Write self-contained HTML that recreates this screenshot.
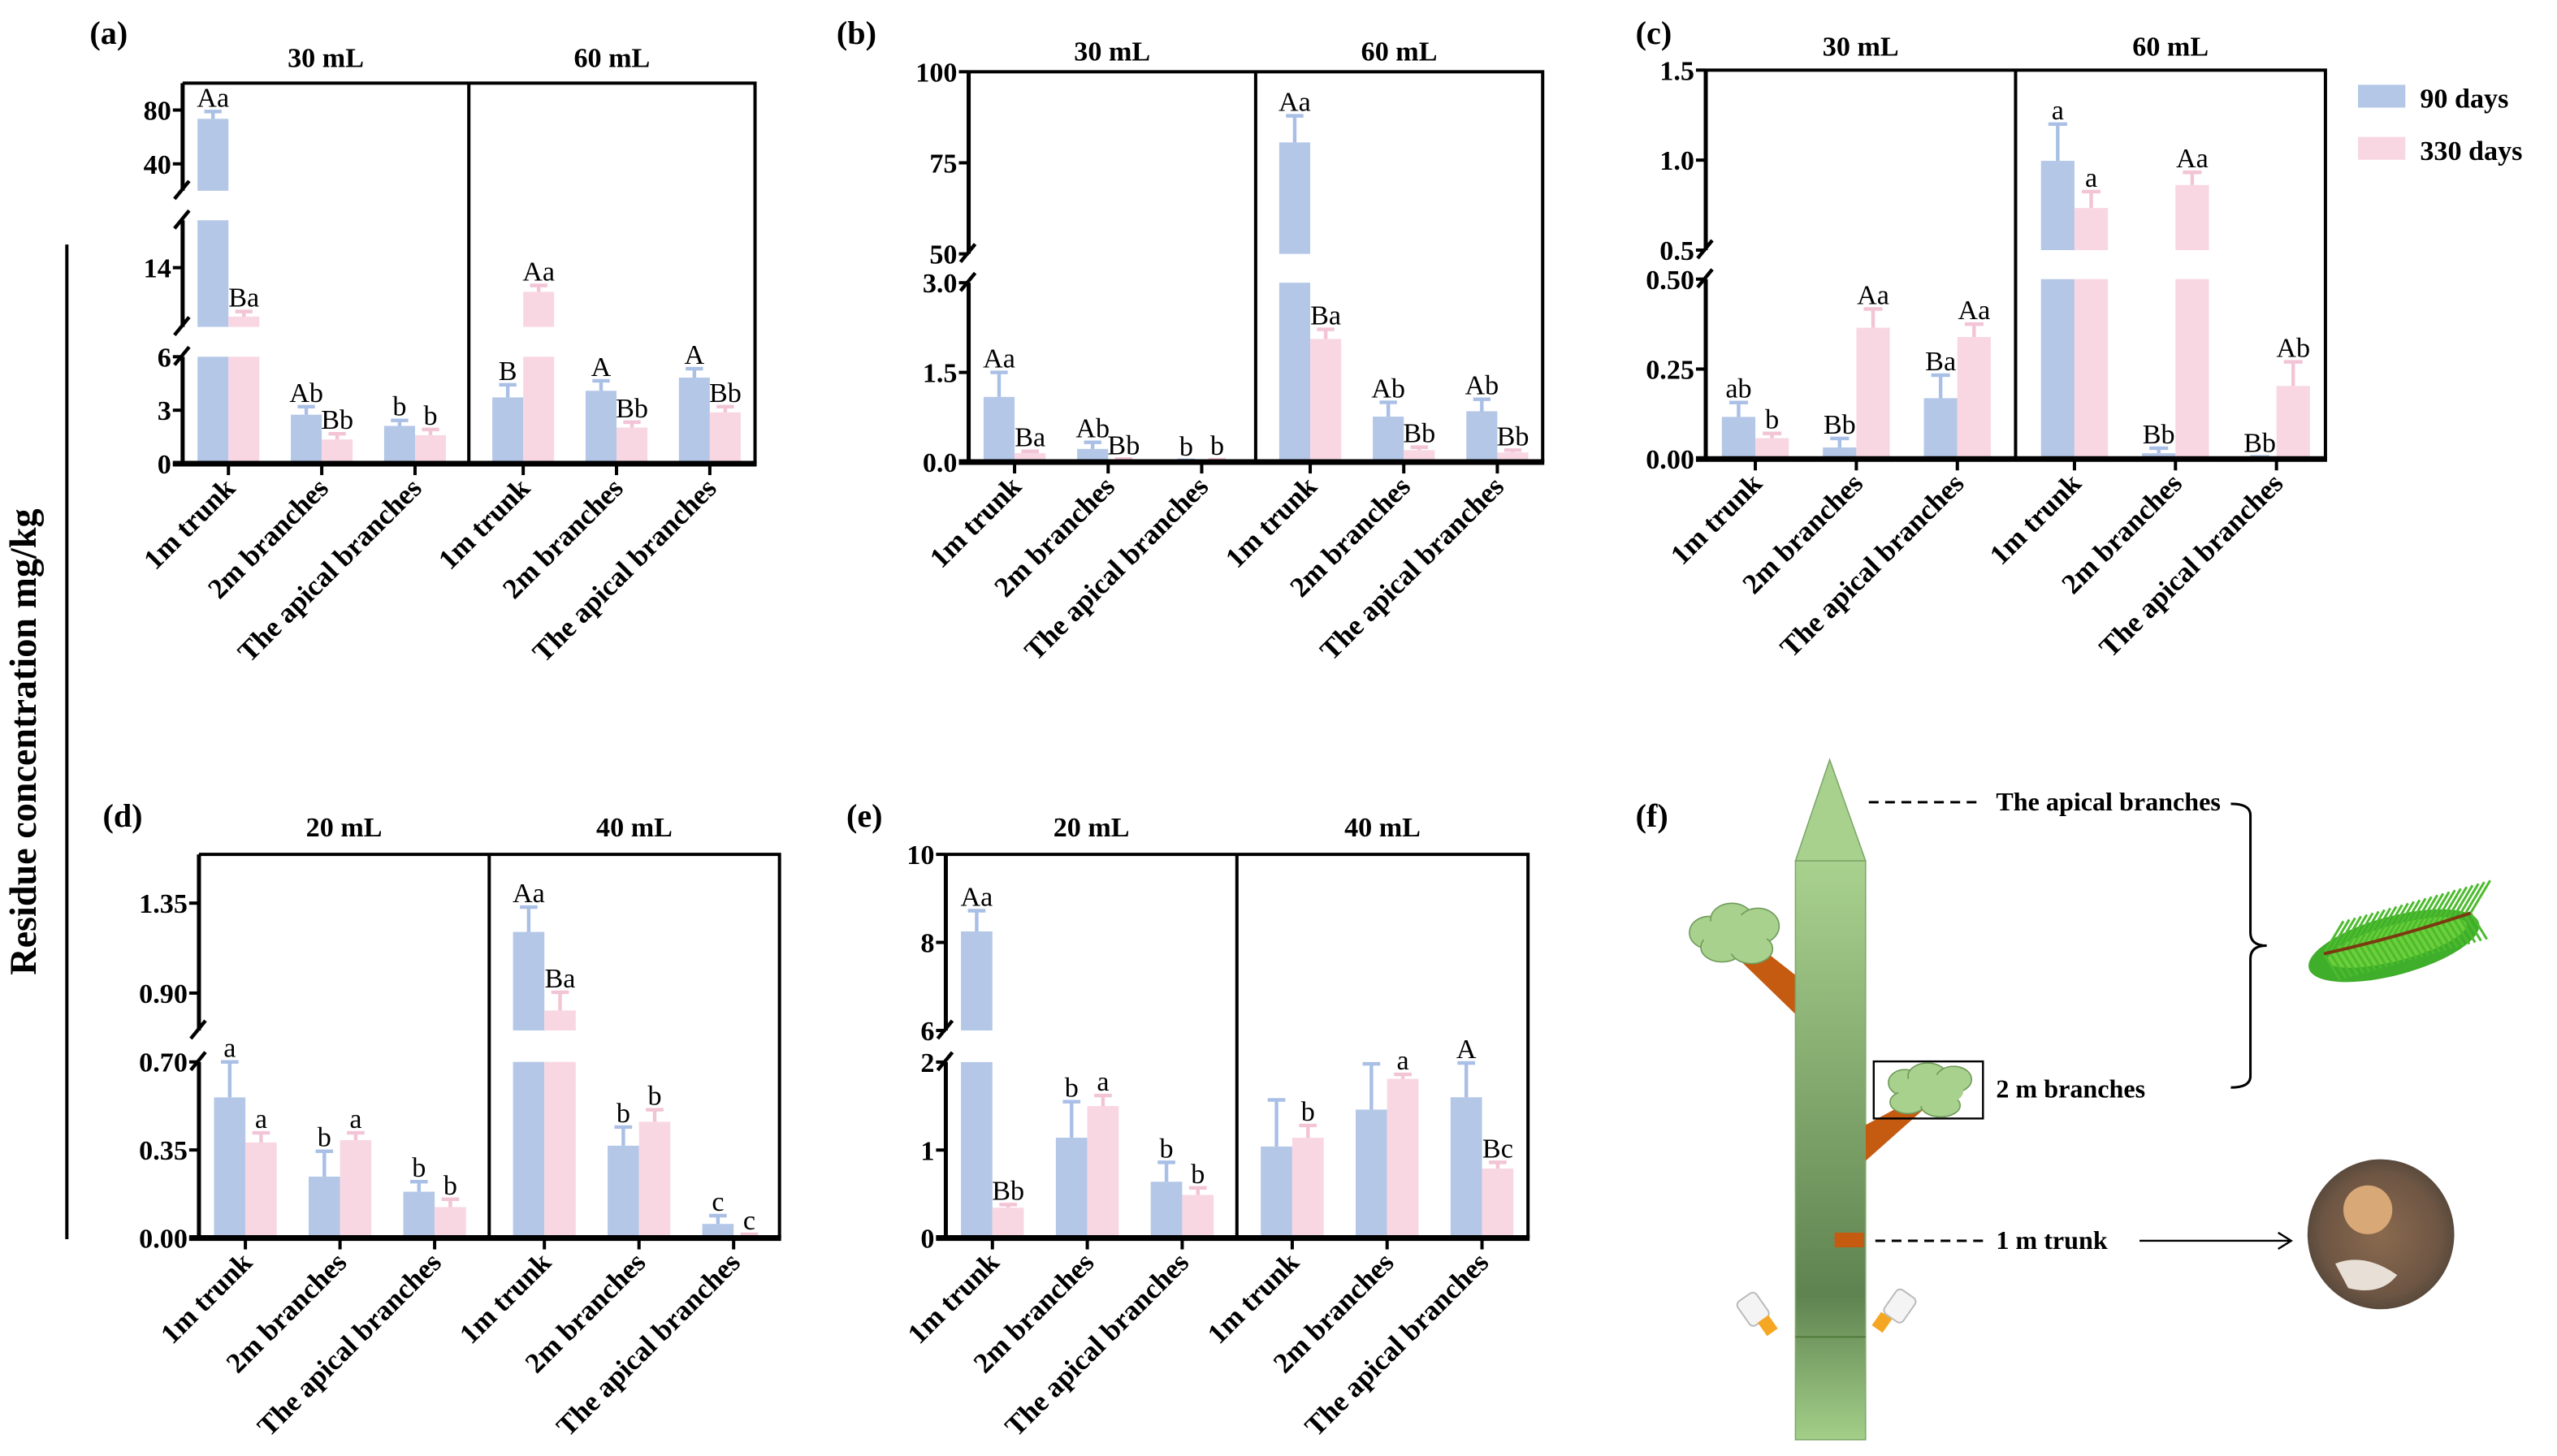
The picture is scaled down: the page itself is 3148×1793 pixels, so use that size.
<!DOCTYPE html>
<html><head><meta charset="utf-8"><style>
html,body{margin:0;padding:0;background:#fff;}
svg{display:block;}
text{font-family:"Liberation Serif",serif;}
</style></head>
<body>
<svg id="fig" width="3148" height="1793" viewBox="0 0 1568 893" preserveAspectRatio="none" xmlns="http://www.w3.org/2000/svg">
<defs>
<linearGradient id="trunkGrad" x1="0" y1="0" x2="0" y2="1">
<stop offset="0" stop-color="#a9d18e"/><stop offset="0.75" stop-color="#5f8350"/><stop offset="1" stop-color="#a3cf89"/>
</linearGradient>
<radialGradient id="barkGrad" cx="0.5" cy="0.5" r="0.5">
<stop offset="0" stop-color="#8a6a4e"/><stop offset="0.8" stop-color="#6e5644"/><stop offset="1" stop-color="#5a4a3c"/>
</radialGradient>
</defs>
<g id="charts"></g>
<g id="axis-title-group">
<line x1="41" y1="150" x2="41" y2="760" stroke="#000" stroke-width="2"/>
<text x="22" y="455" font-size="23" font-weight="bold" text-anchor="middle" transform="rotate(-90 22 455)">Residue concentration mg/kg</text>
</g>
<g id="legend">
<rect x="1446" y="52" width="29" height="14" fill="#b4c7e7"/>
<text x="1484" y="66" font-size="17" font-weight="bold">90 days</text>
<rect x="1446" y="84" width="29" height="14" fill="#f8d7e3"/>
<text x="1484" y="98" font-size="17" font-weight="bold">330 days</text>
</g>
<g id="panel-f">
<text x="1003" y="507" font-size="20" font-weight="bold">(f)</text>
<polygon points="1122,466 1101,528 1144,528" fill="#a9d18e" stroke="#7ea86a" stroke-width="0.8"/>
<polygon points="1101,622 1101,598 1078,580 1068,590" fill="#c55a11"/>
<g fill="#a9d18e" stroke="#6f9a5a" stroke-width="0.8">
<ellipse cx="1048" cy="572" rx="12" ry="10"/><ellipse cx="1062" cy="564" rx="13" ry="10"/><ellipse cx="1078" cy="568" rx="13" ry="11"/><ellipse cx="1056" cy="581" rx="13" ry="9"/><ellipse cx="1074" cy="582" rx="13" ry="9"/><ellipse cx="1064" cy="573" rx="20" ry="12" stroke="none"/>
</g>
<rect x="1101" y="528" width="43" height="355" fill="url(#trunkGrad)" stroke="#7ea86a" stroke-width="0.8"/>
<line x1="1101" y1="820" x2="1144" y2="820" stroke="#4f7a3a" stroke-width="1"/>
<polygon points="1144,712 1144,690 1170,676 1180,680" fill="#c55a11"/>
<rect x="1149" y="651" width="67" height="35" fill="none" stroke="#000" stroke-width="1.2"/>
<g fill="#a9d18e" stroke="#6f9a5a" stroke-width="0.8">
<ellipse cx="1168" cy="664" rx="10" ry="8"/><ellipse cx="1182" cy="660" rx="12" ry="8"/><ellipse cx="1198" cy="662" rx="11" ry="8"/><ellipse cx="1170" cy="676" rx="11" ry="7"/><ellipse cx="1190" cy="678" rx="12" ry="7"/><ellipse cx="1184" cy="669" rx="20" ry="10" stroke="none"/>
</g>
<rect x="1125" y="756" width="18" height="9" fill="#c55a11"/>
<g>
<rect x="1068" y="794" width="14" height="18" rx="3" fill="#f4f4f4" stroke="#bbb" transform="rotate(-35 1075 803)"/>
<rect x="1080" y="808" width="8" height="10" fill="#f5a623" transform="rotate(-35 1084 813)"/>
</g>
<g>
<rect x="1158" y="792" width="14" height="18" rx="3" fill="#f4f4f4" stroke="#bbb" transform="rotate(35 1165 801)"/>
<rect x="1150" y="806" width="8" height="10" fill="#f5a623" transform="rotate(35 1154 811)"/>
</g>
<line x1="1146" y1="492" x2="1212" y2="492" stroke="#000" stroke-width="1.5" stroke-dasharray="6,4"/>
<text x="1224" y="497" font-size="16" font-weight="bold">The apical branches</text>
<text x="1224" y="673" font-size="16" font-weight="bold">2 m branches</text>
<line x1="1150" y1="761" x2="1216" y2="761" stroke="#000" stroke-width="1.5" stroke-dasharray="6,4"/>
<text x="1224" y="766" font-size="16" font-weight="bold">1 m trunk</text>
<path d="M1368,493 Q1380,493 1380,500 L1380,572 Q1380,580 1390,580 Q1380,580 1380,588 L1380,660 Q1380,667 1368,667" fill="none" stroke="#000" stroke-width="1.5"/>
<line x1="1312" y1="761" x2="1404" y2="761" stroke="#000" stroke-width="1.2"/>
<path d="M1397,756 L1405,761 L1397,766" fill="none" stroke="#000" stroke-width="1.2"/>
<g>
<ellipse cx="1468" cy="580" rx="54" ry="18" fill="#3fae2a" transform="rotate(-15 1468 580)"/>
<ellipse cx="1470" cy="578" rx="44" ry="11" fill="#6ccf3a" transform="rotate(-15 1470 578)"/>
<g id="needles" stroke="#4cbb2e" stroke-width="1.5"></g>
<path d="M1425,585 Q1470,575 1515,560" stroke="#7a3a10" stroke-width="2" fill="none"/>
</g>
<g>
<ellipse cx="1460" cy="757" rx="45" ry="46" fill="url(#barkGrad)"/>
<ellipse cx="1452" cy="742" rx="15" ry="15" fill="#d9a877"/>
<path d="M1432,775 Q1450,768 1470,782 Q1460,795 1440,790 Z" fill="#e8e0d6"/>
</g>
</g>
</svg>
<script>
// ---------- DATA ----------
const categories = ['1m trunk','2m branches','The apical branches','1m trunk','2m branches','The apical branches'];

const aBlue = [73.5, 2.75, 2.12, 3.72, 4.09, 4.83];
const aBlueErr = [78.9, 3.2, 2.43, 4.43, 4.65, 5.33];
const aPink = [9.87, 1.36, 1.6, 11.96, 2.03, 2.88];
const aPinkErr = [10.3, 1.68, 1.92, 12.5, 2.33, 3.2];
const aBlueLab = ['Aa','Ab','b','B','A','A'];
const aPinkLab = ['Ba','Bb','b','Aa','Bb','Bb'];
const aTicks = [[0,3,6],[14],[40,80]];
const aTickLabels = [['0','3','6'],['14'],['40','80']];

const bBlue = [1.09, 0.22, 0.02, 80.6, 0.76, 0.85];
const bBlueErr = [1.5, 0.33, 0.03, 87.9, 1.0, 1.05];
const bPink = [0.15, 0.03, 0.02, 2.06, 0.2, 0.16];
const bPinkErr = [0.18, 0.05, 0.04, 2.22, 0.25, 0.2];
const bBlueLab = ['Aa','Ab','b','Aa','Ab','Ab'];
const bPinkLab = ['Ba','Bb','b','Ba','Bb','Bb'];
const bTicks = [[0,1.5,3],[50,75,100]];
const bTickLabels = [['0.0','1.5','3.0'],['50','75','100']];

const cBlue = [0.117, 0.032, 0.169, 0.996, 0.016, 0.004];
const cBlueErr = [0.157, 0.057, 0.233, 1.2, 0.03, 0.006];
const cPink = [0.058, 0.365, 0.339, 0.734, 0.862, 0.203];
const cPinkErr = [0.071, 0.417, 0.375, 0.825, 0.932, 0.27];
const cBlueLab = ['ab','Bb','Ba','a','Bb','Bb'];
const cPinkLab = ['b','Aa','Aa','a','Aa','Ab'];
const cTicks = [[0,0.25,0.5],[0.5,1.0,1.5]];
const cTickLabels = [['0.00','0.25','0.50'],['0.5','1.0','1.5']];

const dBlue = [0.559, 0.244, 0.184, 1.206, 0.367, 0.056];
const dBlueErr = [0.70, 0.345, 0.224, 1.33, 0.441, 0.089];
const dPink = [0.38, 0.389, 0.123, 0.813, 0.462, 0.01];
const dPinkErr = [0.418, 0.418, 0.154, 0.904, 0.51, 0.015];
const dBlueLab = ['a','b','b','Aa','b','c'];
const dPinkLab = ['a','a','b','Ba','b','c'];
const dTicks = [[0,0.35,0.7],[0.9,1.35]];
const dTickLabels = [['0.00','0.35','0.70'],['0.90','1.35']];

const eBlue = [8.25, 1.14, 0.64, 1.04, 1.46, 1.6];
const eBlueErr = [8.72, 1.55, 0.86, 1.57, 1.98, 1.99];
const ePink = [0.345, 1.5, 0.49, 1.14, 1.81, 0.79];
const ePinkErr = [0.38, 1.62, 0.57, 1.28, 1.86, 0.86];
const eBlueLab = ['Aa','b','b','','','A'];
const ePinkLab = ['Bb','a','b','b','a','Bc'];
const eTicks = [[0,1,2],[6,8,10]];
const eTickLabels = [['0','1','2'],['6','8','10']];

// ---------- LAYOUT ----------
const NS = 'http://www.w3.org/2000/svg';
const root = document.getElementById('charts');
const BLUE = '#b4c7e7', PINK = '#f8d7e3', BLUE_E = '#a9bfe6', PINK_E = '#f2c4d5';

function mk(parent, tag, attrs, txt) {
  const el = document.createElementNS(NS, tag);
  for (const k in attrs) el.setAttribute(k, attrs[k]);
  if (txt !== undefined) el.textContent = txt;
  parent.appendChild(el);
  return el;
}

// decorative pine needles
const ng = document.getElementById('needles');
for (let k = 0; k < 26; k++) {
  const bx = 1425 + k * 3.6, by = 585 - k * 1.0;
  const n1 = mk(ng, 'line', {x1: bx, y1: by, x2: bx + 12, y2: by - 20});
  
  
  const n2 = mk(ng, 'line', {x1: bx, y1: by, x2: bx + 10, y2: by + 16});
  
  
}

function drawPanel(id, cfg, blue, blueErr, pink, pinkErr, blueLab, pinkLab, ticks, tickLabels) {
  const g = mk(root, 'g', {});
  
  
  const L = cfg.L, R = cfg.R, W = R - L, mid = L + W / 2;
  const segs = cfg.segs;
  const bottom = segs[0].y0, top = cfg.top;
  function yScale(v) {
    for (let i = segs.length - 1; i >= 0; i--) {
      const s = segs[i];
      if (v >= s.d0) {
        const c = Math.min(v, s.d1);
        return s.y0 - (c - s.d0) / (s.d1 - s.d0) * (s.y0 - s.y1);
      }
    }
    return segs[0].y0;
  }
  function xCenter(i) {
    const step = 0.163 * W;
    return i < 3 ? L + 0.08 * W + i * step : mid + 0.095 * W + (i - 3) * step;
  }
  const bw = 0.054 * W;
  const series = [
    {vals: blue, errs: blueErr, labs: blueLab, col: BLUE, ecol: BLUE_E, off: -1, name: '90-days'},
    {vals: pink, errs: pinkErr, labs: pinkLab, col: PINK, ecol: PINK_E, off: 0, name: '330-days'}
  ];
  series.forEach(S => {
    S.vals.forEach((v, i) => {
      const x = xCenter(i) + S.off * bw;
      segs.forEach((s, si) => {
        if (v > s.d0) {
          const yt = s.y0 - (Math.min(v, s.d1) - s.d0) / (s.d1 - s.d0) * (s.y0 - s.y1);
          const r = mk(g, 'rect', {x: x, y: yt, width: bw, height: Math.max(0.6, s.y0 - yt), fill: S.col});
          
          
        }
      });
      const yv = yScale(v), ye = yScale(S.errs[i]);
      const cx = x + bw / 2;
      const el = mk(g, 'path', {d: 'M' + cx + ',' + yv + 'V' + ye + 'M' + (cx - bw * 0.28) + ',' + ye + 'H' + (cx + bw * 0.28), stroke: S.ecol, 'stroke-width': 2.2, fill: 'none'});
      
      
      if (S.labs[i]) {
        const t = mk(g, 'text', {x: cx, y: ye - 3, 'font-size': 17, 'text-anchor': 'middle'}, S.labs[i]);
        
        
      }
    });
  });
  const fr = mk(g, 'path', {d: 'M' + L + ',' + top + 'H' + R + 'V' + bottom + 'M' + mid + ',' + top + 'V' + bottom, stroke: '#000', 'stroke-width': 2, fill: 'none'});
  
  
  const xa = mk(g, 'line', {x1: L - 6, y1: bottom, x2: R + 1, y2: bottom, stroke: '#000', 'stroke-width': 3.5});
  
  
  segs.forEach((s, si) => {
    const ya = mk(g, 'line', {x1: L, y1: s.y0, x2: L, y2: s.y1, stroke: '#000', 'stroke-width': 2.5});
    
    
    if (si > 0) {
      const b1 = mk(g, 'line', {x1: L - 5, y1: s.y0 + 5, x2: L + 4, y2: s.y0 - 6, stroke: '#000', 'stroke-width': 2.2});
      
      
    }
    if (si < segs.length - 1) {
      const b2 = mk(g, 'line', {x1: L - 5, y1: s.y1 + 5, x2: L + 4, y2: s.y1 - 6, stroke: '#000', 'stroke-width': 2.2});
      
      
    }
    ticks[si].forEach((tv, ti) => {
      const y = s.y0 - (tv - s.d0) / (s.d1 - s.d0) * (s.y0 - s.y1);
      const tk = mk(g, 'line', {x1: L - 6, y1: y, x2: L, y2: y, stroke: '#000', 'stroke-width': 2});
      
      
      const tl = mk(g, 'text', {x: L - 7, y: y + 6, 'font-size': 17, 'font-weight': 'bold', 'text-anchor': 'end'}, tickLabels[si][ti]);
      
      
    });
  });
  categories.forEach((c, i) => {
    const x = xCenter(i);
    const tk = mk(g, 'line', {x1: x, y1: bottom, x2: x, y2: bottom + 7, stroke: '#000', 'stroke-width': 2});
    
    
    const tx = x + 5, ty = bottom + 16;
    const tl = mk(g, 'text', {x: tx, y: ty, 'font-size': 17.5, 'font-weight': 'bold', 'text-anchor': 'end', transform: 'rotate(-45 ' + tx + ' ' + ty + ')'}, c);
    
    
  });
  const t1 = mk(g, 'text', {x: (L + mid) / 2, y: cfg.titleY, 'font-size': 17, 'font-weight': 'bold', 'text-anchor': 'middle'}, cfg.titles[0]);
  
  
  const t2 = mk(g, 'text', {x: (mid + R) / 2, y: cfg.titleY, 'font-size': 17, 'font-weight': 'bold', 'text-anchor': 'middle'}, cfg.titles[1]);
  
  
  const pl = mk(g, 'text', {x: cfg.lx, y: cfg.ly, 'font-size': 20, 'font-weight': 'bold'}, cfg.letter);
  
  
}

drawPanel('a', {L:112, R:463, top:51, titleY:41, titles:['30 mL','60 mL'], letter:'(a)', lx:55, ly:27,
  segs:[{d0:0,d1:6,y0:284.4,y1:218.8},{d0:9,d1:18,y0:200.5,y1:135.1},{d0:20,d1:100,y0:117,y1:51}]},
  aBlue, aBlueErr, aPink, aPinkErr, aBlueLab, aPinkLab, aTicks, aTickLabels);
drawPanel('b', {L:594, R:946, top:44, titleY:37, titles:['30 mL','60 mL'], letter:'(b)', lx:513, ly:27,
  segs:[{d0:0,d1:3,y0:283.4,y1:173.4},{d0:50,d1:100,y0:155.7,y1:44}]},
  bBlue, bBlueErr, bPink, bPinkErr, bBlueLab, bPinkLab, bTicks, bTickLabels);
drawPanel('c', {L:1046, R:1426, top:43, titleY:34, titles:['30 mL','60 mL'], letter:'(c)', lx:1003, ly:27,
  segs:[{d0:0,d1:0.5,y0:281.5,y1:171.2},{d0:0.5,d1:1.5,y0:153.4,y1:43}]},
  cBlue, cBlueErr, cPink, cPinkErr, cBlueLab, cPinkLab, cTicks, cTickLabels);
drawPanel('d', {L:122, R:478, top:524, titleY:513, titles:['20 mL','40 mL'], letter:'(d)', lx:63, ly:507,
  segs:[{d0:0,d1:0.7,y0:759.3,y1:651.3},{d0:0.713,d1:1.594,y0:632,y1:524}]},
  dBlue, dBlueErr, dPink, dPinkErr, dBlueLab, dPinkLab, dTicks, dTickLabels);
drawPanel('e', {L:580, R:937, top:524, titleY:513, titles:['20 mL','40 mL'], letter:'(e)', lx:519, ly:507,
  segs:[{d0:0,d1:2,y0:759.3,y1:651.4},{d0:6,d1:10,y0:632,y1:524}]},
  eBlue, eBlueErr, ePink, ePinkErr, eBlueLab, ePinkLab, eTicks, eTickLabels);
</script>
</body></html>
